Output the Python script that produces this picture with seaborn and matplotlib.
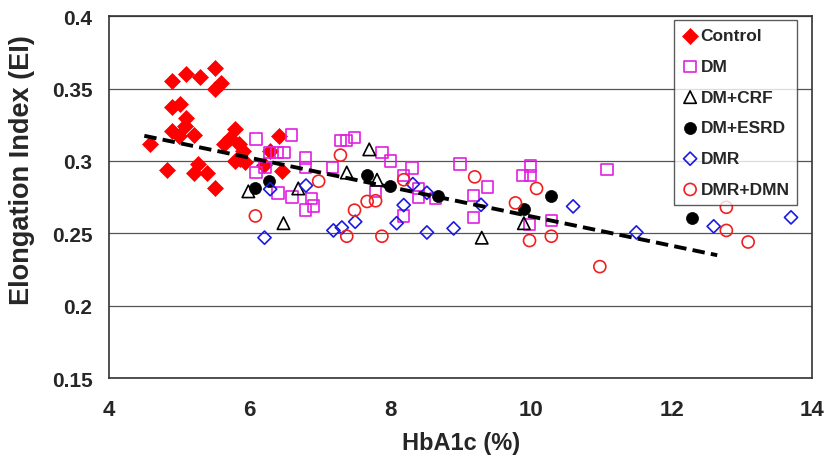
# Elongation index vs HbA1c scatter, per patient group, with a linear trend line

import seaborn as sns
import matplotlib.pyplot as plt
import numpy as np
import pandas as pd

# Data
control_x = [4.58, 4.82, 4.90, 4.89, 4.89, 5.01, 5.09, 5.08, 5.10, 5.00, 5.20, 5.27, 5.29, 5.20,
             5.39, 5.51, 5.51, 5.59, 5.51, 5.79, 5.72, 5.63, 5.85, 5.91, 5.79, 5.93, 6.41, 6.20,
             6.46, 6.29, 5.86]
control_y = [0.312, 0.294, 0.355, 0.337, 0.321, 0.339, 0.360, 0.324, 0.330, 0.317, 0.318, 0.298, 0.358, 0.292,
             0.292, 0.281, 0.364, 0.354, 0.350, 0.322, 0.316, 0.312, 0.312, 0.307, 0.300, 0.299, 0.317, 0.297,
             0.293, 0.307, 0.301]

dm_x = [6.09, 6.59, 6.28, 6.39, 6.49, 6.79, 6.09, 6.79, 6.22, 6.40, 6.60, 6.88, 6.91, 6.79,
        7.18, 7.29, 7.38, 7.49, 7.88, 8.00, 7.79, 8.31, 8.19, 8.40, 8.40, 8.19, 8.64, 8.99,
        9.38, 9.18, 9.18, 9.99, 9.88, 9.99, 11.08, 9.98, 10.29]
dm_y = [0.315, 0.318, 0.306, 0.306, 0.306, 0.302, 0.292, 0.2955, 0.2955, 0.278, 0.275, 0.274, 0.269, 0.266,
        0.2955, 0.314, 0.314, 0.316, 0.306, 0.300, 0.279, 0.295, 0.290, 0.281, 0.275, 0.262, 0.274, 0.298,
        0.282, 0.276, 0.261, 0.2966, 0.290, 0.290, 0.294, 0.256, 0.259]

crf_x = [5.98, 6.48, 6.69, 7.38, 7.70, 7.81, 9.30, 9.90]
crf_y = [0.279, 0.257, 0.281, 0.292, 0.308, 0.287, 0.247, 0.257]

esrd_x = [6.08, 6.28, 7.67, 8.00, 8.68, 9.90, 10.29, 12.29]
esrd_y = [0.281, 0.286, 0.290, 0.283, 0.2755, 0.267, 0.276, 0.2605]

dmr_x = [6.21, 6.29, 6.80, 7.19, 7.31, 7.50, 8.09, 8.19, 8.32, 8.52, 8.52, 8.90, 9.29,
         10.60, 11.50, 12.60, 13.70]
dmr_y = [0.247, 0.2805, 0.283, 0.252, 0.254, 0.258, 0.257, 0.2695, 0.284, 0.278, 0.2506, 0.2534, 0.2697,
         0.2686, 0.2506, 0.2548, 0.261]

dmn_x = [6.08, 6.98, 7.29, 7.38, 7.49, 7.67, 7.79, 7.88, 8.19, 9.20, 10.08, 9.78, 9.98,
         10.29, 10.98, 12.78, 12.78, 13.09]
dmn_y = [0.262, 0.286, 0.304, 0.248, 0.266, 0.272, 0.2725, 0.248, 0.287, 0.289, 0.281, 0.271, 0.245,
         0.248, 0.227, 0.268, 0.252, 0.244]

# trend line
trend_slope = -0.01012
trend_intercept = 0.3629
trend_x = [4.5, 12.65]

groups = ['Control', 'DM', 'DM+CRF', 'DM+ESRD', 'DMR', 'DMR+DMN']
xs = [control_x, dm_x, crf_x, esrd_x, dmr_x, dmn_x]
ys = [control_y, dm_y, crf_y, esrd_y, dmr_y, dmn_y]

df = pd.DataFrame({
    'Group': sum([[g] * len(x) for g, x in zip(groups, xs)], []),
    'HbA1c': sum(xs, []),
    'EI': sum(ys, []),
})

styles = {
    'Control': dict(marker='D', s=66, color='#ff0000', edgecolor='#ff0000', linewidth=0.5),
    'DM': dict(marker='s', s=68, facecolor='none', edgecolor='#e020e0', linewidth=1.2),
    'DM+CRF': dict(marker='^', s=80, facecolor='none', edgecolor='black', linewidth=1.2),
    'DM+ESRD': dict(marker='o', s=75, color='black', edgecolor='black', linewidth=0.5),
    'DMR': dict(marker='D', s=45, facecolor='none', edgecolor='#1a1ae0', linewidth=1.2),
    'DMR+DMN': dict(marker='o', s=75, facecolor='none', edgecolor='#f02020', linewidth=1.2),
}

sns.set_style('white')
plt.rcParams['font.family'] = ['Liberation Sans', 'DejaVu Sans']

fig = plt.figure(figsize=(8.27, 4.64), dpi=100)
ax = fig.add_axes([0.132, 0.183, 0.850, 0.780])

for g in groups:
    sub = df[df['Group'] == g]
    sns.scatterplot(data=sub, x='HbA1c', y='EI', label=g, ax=ax, zorder=3, **styles[g])

tx = np.array(trend_x)
sns.lineplot(x=tx, y=trend_slope * tx + trend_intercept, ax=ax, color='black', linewidth=2.8,
             dashes=False, zorder=4)
ax.lines[-1].set_dashes((3.2, 1.6))

ax.set_xlim(4, 14)
ax.set_ylim(0.15, 0.4)
ax.set_xticks([4, 6, 8, 10, 12, 14])
ax.set_yticks([0.15, 0.2, 0.25, 0.3, 0.35, 0.4])
ax.set_yticklabels(['0.15', '0.2', '0.25', '0.3', '0.35', '0.4'])
ax.yaxis.grid(True, color='#555555', linewidth=0.9)
ax.xaxis.grid(False)
for sp in ax.spines.values():
    sp.set_color('#333333')
    sp.set_linewidth(1.2)
ax.tick_params(axis='y', length=0, labelsize=15, pad=12)
ax.tick_params(axis='x', length=0, labelsize=16, pad=15)
for lab in ax.get_xticklabels() + ax.get_yticklabels():
    lab.set_fontweight('bold')

ax.set_xlabel('HbA1c (%)', fontsize=17, fontweight='bold', labelpad=8)
ax.set_ylabel('Elongation Index (EI)', fontsize=19.5, fontweight='bold')
ax.yaxis.set_label_coords(-0.106, 0.577)

leg = ax.legend(loc='upper right', bbox_to_anchor=(0.979, 0.989), borderaxespad=0, frameon=True,
                fancybox=False, edgecolor='#333333', handletextpad=0.1, handlelength=1.0,
                labelspacing=0.9, borderpad=0.45, prop={'weight': 'bold', 'size': 12.5})
leg.get_frame().set_linewidth(1.0)

plt.savefig('out.png', dpi=100)
